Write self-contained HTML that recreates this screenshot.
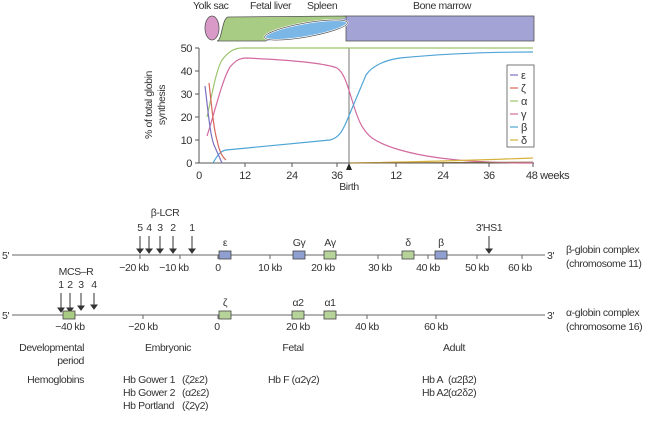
<!DOCTYPE html>
<html><head><meta charset="utf-8"><style>
html,body{margin:0;padding:0;background:#fff;}
svg{display:block;font-family:"Liberation Sans",sans-serif;}
text{font-size:10.5px;fill:#333;letter-spacing:-0.4px;}
</style></head><body>
<svg width="650" height="424" viewBox="0 0 650 424" xmlns="http://www.w3.org/2000/svg">
<!-- top bar -->
<text x="193" y="9">Yolk sac</text>
<text x="250" y="9">Fetal liver</text>
<text x="307" y="9">Spleen</text>
<text x="413" y="9">Bone marrow</text>
<rect x="346" y="16" width="188" height="25" fill="#a3a3d6" stroke="#555" stroke-width="0.8"/>
<path d="M217,41 C222,41 222,18 228,17 L346,16 L346,20 C320,24 290,32 275,34 C270,36 268,38 266,41 Z" fill="#a8cc84" stroke="#555" stroke-width="0.8"/>
<path d="M266,41 C272,30 330,20 346,18 L346,26 C330,32 300,40 270,41 Z" fill="#a3a3d6"/>
<ellipse cx="306" cy="30" rx="42" ry="7" transform="rotate(-10 306 30)" fill="#7ab6e6" stroke="#fff" stroke-width="2"/>
<ellipse cx="306" cy="30" rx="42" ry="7" transform="rotate(-10 306 30)" fill="none" stroke="#444" stroke-width="0.6"/>
<ellipse cx="212" cy="28" rx="7" ry="12" fill="#d99ac8" stroke="#555" stroke-width="0.8"/>
<!-- axes -->
<line x1="199" y1="48" x2="199" y2="163" stroke="#555"/>
<line x1="199" y1="163" x2="534" y2="163" stroke="#555"/>
<g stroke="#555">
<line x1="195" y1="48" x2="199" y2="48"/><line x1="195" y1="71" x2="199" y2="71"/><line x1="195" y1="94" x2="199" y2="94"/><line x1="195" y1="117" x2="199" y2="117"/><line x1="195" y1="140" x2="199" y2="140"/><line x1="195" y1="163" x2="199" y2="163"/>
<line x1="245" y1="163" x2="245" y2="167"/><line x1="292" y1="163" x2="292" y2="167"/><line x1="337" y1="163" x2="337" y2="167"/><line x1="396" y1="163" x2="396" y2="167"/><line x1="443" y1="163" x2="443" y2="167"/><line x1="489" y1="163" x2="489" y2="167"/><line x1="533" y1="163" x2="533" y2="167"/>
</g>
<g text-anchor="end">
<text x="192" y="52" style="font-size:11px">50</text><text x="192" y="75" style="font-size:11px">40</text><text x="192" y="98" style="font-size:11px">30</text><text x="192" y="121" style="font-size:11px">20</text><text x="192" y="144" style="font-size:11px">10</text><text x="192" y="167" style="font-size:11px">0</text>
</g>
<g text-anchor="middle">
<text x="199" y="179" style="font-size:11px">0</text><text x="245" y="179" style="font-size:11px">12</text><text x="292" y="179" style="font-size:11px">24</text><text x="337" y="179" style="font-size:11px">36</text><text x="396" y="179" style="font-size:11px">12</text><text x="443" y="179" style="font-size:11px">24</text><text x="489" y="179" style="font-size:11px">36</text>
</g>
<text x="526" y="179" style="font-size:11px">48 weeks</text>
<text x="349" y="190" text-anchor="middle">Birth</text>
<text transform="translate(152,105) rotate(-90)" text-anchor="middle">% of total globin</text>
<text transform="translate(165,105) rotate(-90)" text-anchor="middle">synthesis</text>
<line x1="349" y1="48" x2="349" y2="163" stroke="#555" stroke-width="0.8"/>
<path d="M346,170 L349,163 L352,170 Z" fill="#222"/>
<!-- curves -->
<g fill="none" stroke-width="1.2">
<path d="M207,117 C212,95 216,70 222,60 C228,52 234,48 242,48 L533,48" stroke="#9cc46c"/>
<path d="M207,136 C214,115 222,80 230,67 C236,60 240,58 247,58 C290,60 325,63 337,68 C343,72 346,80 352,100 C358,120 362,130 372,138 C385,147 410,154 440,158 C470,162 500,163 533,163" stroke="#d36ba0"/>
<path d="M213,163 C217,156 220,151 226,150 L330,140 C338,138 342,133 348,118 L366,75 C372,66 385,60 400,58 C440,54 490,52 533,52" stroke="#4fa5d6"/>
<path d="M205,86 C208,110 210,135 214,145 L222,163" stroke="#7a72bf"/>
<path d="M209,83 C212,110 214,130 217,140 C219,150 222,157 226,160" stroke="#d9665e"/>
<path d="M350,163 C420,162 480,160 533,158" stroke="#d6b23c"/>
<path d="M350,163 L533,162" stroke="#8a6a3a" stroke-width="0.8"/>
</g>
<!-- legend -->
<rect x="507" y="65" width="27" height="82" fill="#fff" stroke="#555" stroke-width="0.8"/>
<g stroke-width="1.2">
<line x1="510" y1="75" x2="518" y2="75" stroke="#7a72bf"/>
<line x1="510" y1="88" x2="518" y2="88" stroke="#d9665e"/>
<line x1="510" y1="101" x2="518" y2="101" stroke="#9cc46c"/>
<line x1="510" y1="114" x2="518" y2="114" stroke="#d36ba0"/>
<line x1="510" y1="127" x2="518" y2="127" stroke="#4fa5d6"/>
<line x1="510" y1="140" x2="518" y2="140" stroke="#d6b23c"/>
</g>
<g>
<text x="521" y="79" style="font-size:11px">ε</text><text x="521" y="92" style="font-size:11px">ζ</text><text x="521" y="105" style="font-size:11px">α</text><text x="521" y="118" style="font-size:11px">γ</text><text x="521" y="131" style="font-size:11px">β</text><text x="521" y="144" style="font-size:11px">δ</text>
</g>
<!-- beta globin map -->
<text x="2" y="259">5'</text>
<line x1="12" y1="255" x2="545" y2="255" stroke="#666"/>
<text x="547" y="259">3'</text>
<text x="566" y="253">β-globin complex</text>
<text x="566" y="267">(chromosome 11)</text>
<g stroke="#666"><line x1="140" y1="255" x2="140" y2="259"/><line x1="180" y1="255" x2="180" y2="259"/><line x1="218" y1="255" x2="218" y2="259"/><line x1="270" y1="255" x2="270" y2="259"/><line x1="325" y1="255" x2="325" y2="259"/><line x1="378" y1="255" x2="378" y2="259"/><line x1="428" y1="255" x2="428" y2="259"/><line x1="477" y1="255" x2="477" y2="259"/><line x1="522" y1="255" x2="522" y2="259"/></g>
<g text-anchor="middle">
<text x="134" y="271">−20 kb</text><text x="174" y="271">−10 kb</text><text x="218" y="271">0</text><text x="270" y="271">10 kb</text><text x="323" y="271">20 kb</text><text x="380" y="271">30 kb</text><text x="428" y="271">40 kb</text><text x="477" y="271">50 kb</text><text x="520" y="271">60 kb</text>
<text x="165" y="216">β-LCR</text>
<text x="140" y="231">5</text><text x="149" y="231">4</text><text x="160" y="231">3</text><text x="173" y="231">2</text><text x="192" y="231">1</text>
<text x="489" y="231">3'HS1</text>
<text x="225" y="246">ε</text><text x="299" y="246">Gγ</text><text x="330" y="246">Aγ</text><text x="408" y="246">δ</text><text x="441" y="246">β</text>
</g>
<g stroke="#333" fill="#333">
<line x1="140" y1="236" x2="140" y2="250"/><path d="M137,249 L140,253 L143,249Z"/>
<line x1="149" y1="236" x2="149" y2="250"/><path d="M146,249 L149,253 L152,249Z"/>
<line x1="160" y1="236" x2="160" y2="250"/><path d="M157,249 L160,253 L163,249Z"/>
<line x1="173" y1="236" x2="173" y2="250"/><path d="M170,249 L173,253 L176,249Z"/>
<line x1="192" y1="236" x2="192" y2="250"/><path d="M189,249 L192,253 L195,249Z"/>
<line x1="489" y1="236" x2="489" y2="250"/><path d="M486,249 L489,253 L492,249Z"/>
</g>
<g stroke="#444" stroke-width="0.8">
<rect x="219" y="251" width="12" height="8" fill="#8fa0d0"/><rect x="293" y="251" width="12" height="8" fill="#8fa0d0"/><rect x="324" y="251" width="12" height="8" fill="#b6d39a"/><rect x="402" y="251" width="12" height="8" fill="#b6d39a"/><rect x="435" y="251" width="12" height="8" fill="#8fa0d0"/>
</g>
<!-- alpha globin map -->
<text x="2" y="319">5'</text>
<line x1="12" y1="315" x2="545" y2="315" stroke="#666"/>
<text x="547" y="319">3'</text>
<text x="566" y="316">α-globin complex</text>
<text x="566" y="330">(chromosome 16)</text>
<g stroke="#666"><line x1="68" y1="315" x2="68" y2="319"/><line x1="143" y1="315" x2="143" y2="319"/><line x1="218" y1="315" x2="218" y2="319"/><line x1="298" y1="315" x2="298" y2="319"/><line x1="367" y1="315" x2="367" y2="319"/><line x1="436" y1="315" x2="436" y2="319"/></g>
<g text-anchor="middle">
<text x="70" y="330">−40 kb</text><text x="143" y="330">−20 kb</text><text x="217" y="330">0</text><text x="298" y="330">20 kb</text><text x="367" y="330">40 kb</text><text x="436" y="330">60 kb</text>
<text x="76" y="275">MCS–R</text>
<text x="61" y="288">1</text><text x="70" y="288">2</text><text x="81" y="288">3</text><text x="94" y="288">4</text>
<text x="225" y="306">ζ</text><text x="298" y="306">α2</text><text x="330" y="306">α1</text>
</g>
<g stroke="#333" fill="#333">
<line x1="61" y1="293" x2="61" y2="309"/><path d="M58,308 L61,312 L64,308Z"/>
<line x1="70" y1="293" x2="70" y2="309"/><path d="M67,308 L70,312 L73,308Z"/>
<line x1="81" y1="293" x2="81" y2="307"/><path d="M78,306 L81,310 L84,306Z"/>
<line x1="94" y1="293" x2="94" y2="306"/><path d="M91,305 L94,309 L97,305Z"/>
</g>
<g stroke="#444" stroke-width="0.8">
<rect x="63" y="311" width="12" height="8" fill="#a8cc84"/>
<rect x="219" y="311" width="12" height="8" fill="#b6d39a"/><rect x="292" y="311" width="12" height="8" fill="#b6d39a"/><rect x="324" y="311" width="12" height="8" fill="#b6d39a"/>
</g>
<!-- bottom text -->
<text x="84" y="351" text-anchor="end">Developmental</text>
<text x="84" y="364" text-anchor="end">period</text>
<text x="168" y="351" text-anchor="middle">Embryonic</text>
<text x="293" y="351" text-anchor="middle">Fetal</text>
<text x="454" y="351" text-anchor="middle">Adult</text>
<text x="84" y="383" text-anchor="end">Hemoglobins</text>
<text x="123" y="383">Hb Gower 1</text><text x="182" y="383">(ζ2ε2)</text>
<text x="123" y="396">Hb Gower 2</text><text x="182" y="396">(α2ε2)</text>
<text x="123" y="409">Hb Portland</text><text x="182" y="409">(ζ2γ2)</text>
<text x="268" y="383">Hb F (α2γ2)</text>
<text x="422" y="383">Hb A</text><text x="448" y="383">(α2β2)</text>
<text x="422" y="396">Hb A2</text><text x="448" y="396">(α2δ2)</text>
</svg>
</body></html>
